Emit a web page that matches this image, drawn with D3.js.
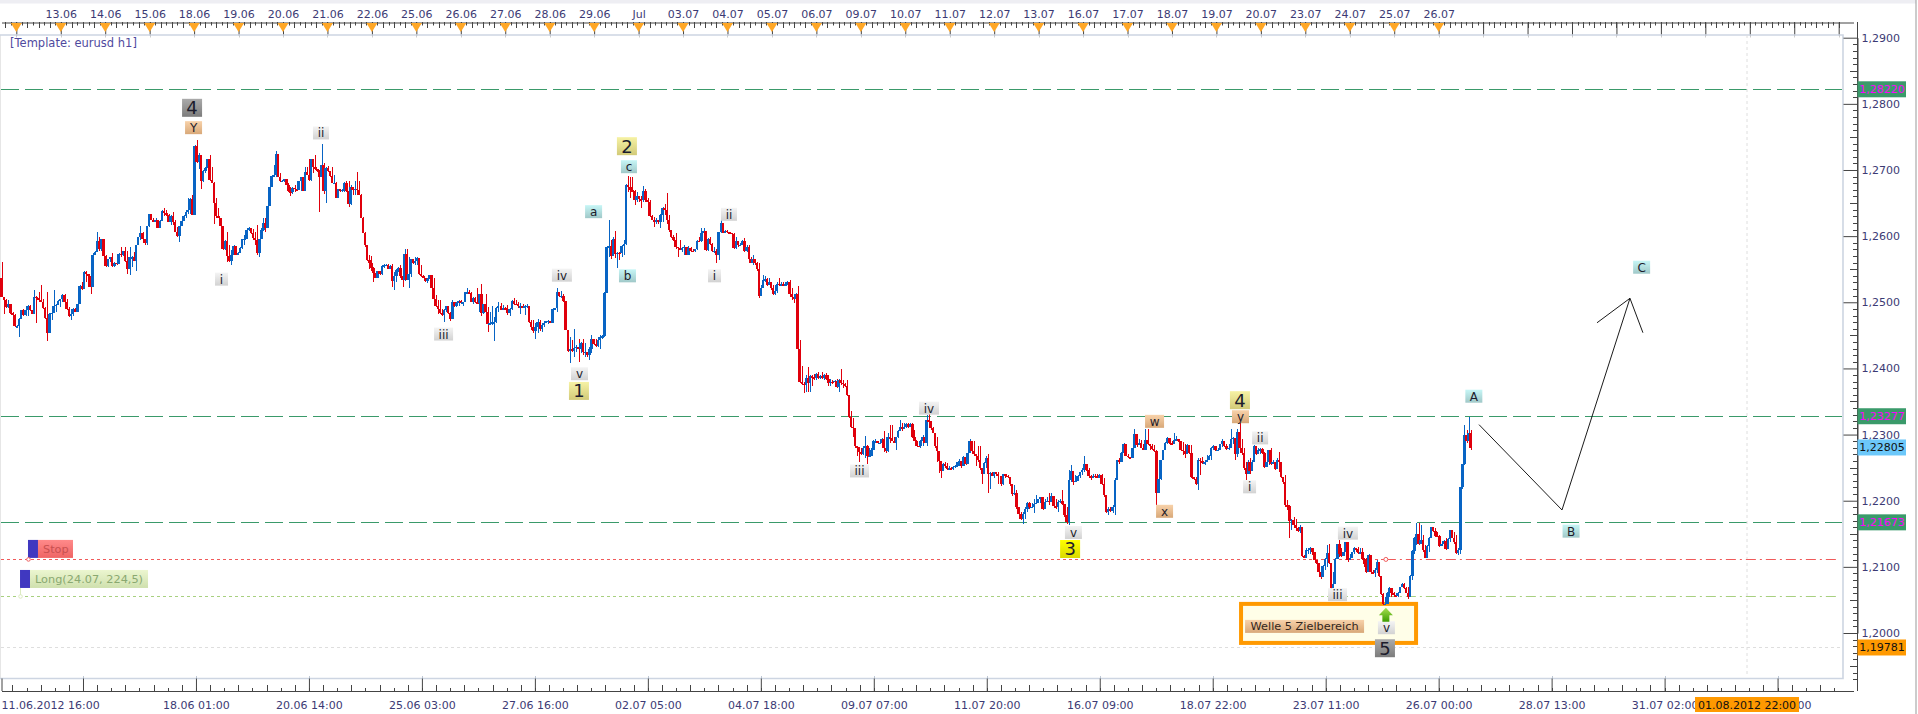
<!DOCTYPE html>
<html>
<head>
<meta charset="utf-8">
<title>eurusd h1</title>
<style>
  html, body { margin: 0; padding: 0; background: #fff; overflow: hidden; }
  text { font-family: "DejaVu Sans", sans-serif; }
</style>
<script src="https://d3js.org/d3.v7.min.js"></script>
</head>
<body>
<svg id="chart" width="1918" height="714"></svg>
<script>
// prices are stored x 10000 (12510 = 1,2510). bars, leg by leg
const highA = [12561,12508,12505,12503,12498,12486,12483,12466,12476,12489,
12490,12489,12496,12496,12489,12519,12509,12516,12526,12505,
12493,12516,12484,12485,12518,12498,12503,12505,12512,12513,
12505,12493,12490,12491,12491,12500,12526,12530,12548,12548,
12543,12556,12574,12577,12607,12598,12596,12589,12571,12566,
12569,12575,12561,12561,12574,12584,12578,12584,12578,12584,
12570,12576,12586,12599,12615,12606,12596,12616,12634,12632,
12628,12627,12625,12624,12639,12643,12639,12634,12632,12637,
12624,12614,12616,12624,12632,12640,12657,12657,12662,12738,
12745,12725,12710,12700,12705,12717,12722,12705,12682,12657,
12642,12627,12614,12594,12606,12586,12579,12586,12577,12576,
12583,12596,12601,12611,12614];
const lowA = [12508,12483,12492,12492,12483,12480,12463,12461,12447,12475,
12480,12480,12480,12487,12482,12482,12468,12503,12500,12490,
12475,12441,12454,12473,12486,12486,12497,12493,12500,12500,
12488,12478,12473,12480,12485,12485,12497,12518,12520,12530,
12523,12513,12523,12571,12576,12578,12578,12568,12554,12554,
12561,12554,12554,12557,12558,12568,12570,12561,12543,12541,
12553,12562,12548,12586,12594,12594,12586,12586,12614,12624,
12621,12621,12612,12614,12624,12631,12631,12621,12617,12617,
12606,12599,12591,12616,12624,12627,12634,12634,12632,12632,
12710,12702,12671,12682,12695,12702,12684,12680,12619,12627,
12627,12614,12579,12579,12561,12561,12556,12571,12571,12572,
12574,12581,12586,12598,12608];
const closeA = [12508,12503,12493,12497,12484,12481,12464,12464,12475,12488,
12481,12488,12495,12488,12483,12508,12507,12504,12501,12491,
12476,12454,12483,12484,12495,12496,12502,12505,12511,12501,
12490,12480,12482,12490,12486,12497,12524,12520,12546,12543,
12540,12523,12572,12576,12592,12580,12595,12570,12555,12565,
12568,12555,12560,12558,12573,12572,12577,12562,12550,12568,
12568,12563,12586,12598,12605,12595,12590,12615,12633,12625,
12622,12625,12613,12623,12638,12635,12632,12622,12630,12622,
12607,12600,12615,12623,12631,12636,12640,12656,12632,12737,
12712,12722,12683,12698,12703,12717,12685,12681,12650,12630,
12628,12615,12580,12593,12570,12562,12572,12585,12572,12575,
12582,12595,12596,12610,12612];

const highB = [12611,12611,12606,12617,12596,12612,12627,12627,12647,12676,
12692,12707,12728,12722,12695,12685,12687,12687,12680,12674,
12674,12677,12675,12684,12690,12690,12705,12705,12717,12717,
12707,12722,12702,12700,12740,12710,12705,12706,12697,12705,
12692,12682,12672,12671,12672,12682,12684,12684,12677,12675,
12684,12697,12684,12664,12629,12606,12586,12571,12570,12553,
12548,12548,12548,12556,12558,12558,12558,12556,12558,12546,
12551,12553,12556,12551,12580,12580,12568,12566,12562,12568,
12569,12566,12556,12541,12536,12536,12541,12541,12536,12511,
12503,12503,12490,12490,12495,12493,12485,12503,12500,12500,
12503,12503,12501,12516,12521,12518,12516,12508,12508,12521,
12513,12527,12498,12513,12493,12485,12494,12478,12493,12500];
const lowB = [12603,12594,12586,12572,12569,12608,12608,12606,12612,12646,
12675,12689,12689,12689,12682,12682,12682,12677,12667,12661,
12664,12667,12669,12669,12668,12668,12668,12692,12684,12684,
12695,12700,12697,12637,12697,12664,12650,12697,12690,12680,
12680,12657,12657,12667,12667,12667,12667,12644,12647,12662,
12662,12662,12662,12627,12604,12584,12563,12551,12548,12531,
12536,12536,12541,12541,12552,12555,12550,12551,12523,12518,
12531,12546,12536,12523,12532,12533,12521,12538,12558,12556,
12556,12541,12538,12536,12531,12529,12533,12521,12503,12493,
12483,12483,12480,12470,12485,12483,12472,12475,12493,12493,
12495,12498,12495,12500,12513,12513,12500,12498,12499,12498,
12485,12480,12483,12485,12455,12467,12465,12441,12469,12485];
const closeB = [12604,12597,12594,12574,12595,12610,12620,12612,12646,12675,
12691,12692,12724,12690,12683,12684,12686,12678,12668,12666,
12673,12671,12670,12683,12689,12668,12697,12693,12685,12716,
12705,12701,12698,12690,12708,12668,12703,12699,12691,12681,
12681,12658,12671,12669,12670,12681,12668,12648,12675,12670,
12672,12670,12662,12627,12605,12586,12564,12560,12552,12545,
12537,12547,12542,12555,12556,12557,12551,12555,12532,12540,
12549,12552,12540,12533,12573,12534,12543,12565,12559,12562,
12567,12542,12540,12537,12532,12535,12541,12522,12505,12494,
12490,12484,12481,12488,12494,12484,12475,12500,12495,12499,
12502,12499,12500,12515,12515,12514,12501,12507,12500,12499,
12512,12484,12497,12486,12467,12468,12470,12470,12492,12495];

const highC = [12499,12496,12493,12496,12491,12503,12506,12503,12501,12499,
12498,12496,12498,12493,12473,12473,12468,12474,12473,12469,
12471,12472,12473,12473,12491,12492,12521,12516,12517,12513,
12502,12458,12448,12443,12460,12435,12445,12440,12445,12438,
12425,12433,12450,12445,12445,12448,12450,12450,12515,12585,
12625,12594,12599,12608,12576,12576,12586,12594,12679,12691,
12690,12690,12670,12667,12660,12660,12676,12672,12657,12655,
12632,12629,12627,12625,12634,12644,12649,12665,12632,12609,
12602,12604,12584,12594,12584,12586,12584,12585,12584,12581,
12581,12594,12598,12612,12612,12605,12597,12599,12589,12584,
12581,12607,12624,12619,12609,12609,12607,12605,12604,12598,
12591,12590,12594,12597,12586,12586];
const lowC = [12488,12488,12488,12481,12479,12488,12496,12496,12491,12482,
12491,12481,12491,12468,12458,12453,12444,12454,12457,12455,
12463,12468,12467,12468,12468,12488,12486,12508,12507,12501,
12458,12425,12408,12425,12418,12425,12410,12423,12420,12418,
12418,12413,12423,12435,12433,12433,12430,12445,12448,12514,
12569,12566,12574,12567,12552,12564,12569,12571,12586,12667,
12657,12667,12647,12652,12652,12642,12652,12652,12647,12629,
12624,12614,12619,12619,12612,12622,12632,12619,12607,12597,
12592,12581,12569,12579,12576,12571,12571,12574,12576,12576,
12576,12579,12591,12591,12597,12578,12578,12586,12576,12574,
12559,12564,12604,12604,12604,12605,12604,12602,12581,12581,
12584,12585,12588,12576,12576,12559];
const closeC = [12489,12491,12490,12484,12490,12502,12498,12497,12494,12494,
12493,12494,12495,12470,12462,12456,12463,12470,12460,12466,
12468,12471,12472,12469,12490,12491,12515,12509,12510,12502,
12458,12427,12430,12427,12431,12433,12430,12438,12425,12425,
12420,12430,12444,12437,12434,12443,12448,12449,12514,12584,
12585,12570,12595,12573,12575,12574,12585,12588,12678,12675,
12669,12668,12654,12660,12656,12654,12668,12655,12651,12631,
12625,12622,12625,12621,12632,12643,12640,12625,12610,12598,
12594,12584,12582,12580,12582,12584,12572,12582,12578,12577,
12580,12593,12592,12605,12608,12579,12596,12588,12577,12578,
12572,12606,12620,12605,12608,12606,12605,12603,12582,12592,
12586,12587,12593,12578,12584,12565];

const highD = [12569,12572,12564,12561,12559,12526,12541,12539,12536,12536,
12531,12526,12526,12531,12536,12531,12531,12531,12532,12534,
12521,12511,12514,12525,12443,12403,12380,12390,12402,12390,
12390,12392,12393,12394,12390,12394,12392,12393,12390,12384,
12383,12383,12384,12384,12399,12383,12378,12383,12360,12335,
12325,12310,12282,12279,12279,12282,12298,12284,12279,12279,
12292,12293,12290,12292,12295,12305,12287,12302,12315,12315,
12297,12297,12307,12322,12317,12318,12317,12318,12317,12317,
12307,12292,12283,12292,12300,12301,12330,12332,12321,12312,
12302,12297,12274,12259,12257,12258,12257,12253,12251,12253,
12254,12259,12263,12259,12267,12267,12274,12293,12290,12290,
12269,12282,12282,12249,12259,12267,12271,12243,12243,12244,
12244,12244];
const lowD = [12559,12556,12556,12548,12506,12509,12531,12531,12524,12526,
12519,12511,12511,12514,12524,12524,12524,12524,12526,12509,
12504,12499,12501,12430,12378,12375,12363,12364,12364,12364,
12373,12383,12383,12384,12384,12384,12382,12382,12374,12374,
12377,12379,12371,12365,12375,12370,12372,12358,12325,12310,
12297,12280,12267,12259,12269,12269,12264,12256,12267,12267,
12277,12288,12285,12287,12285,12274,12272,12274,12287,12290,
12287,12277,12295,12307,12305,12310,12310,12310,12312,12295,
12290,12282,12282,12279,12282,12287,12282,12312,12307,12302,
12280,12259,12242,12234,12247,12249,12247,12247,12247,12247,
12249,12251,12252,12249,12254,12254,12257,12272,12273,12267,
12252,12259,12247,12226,12242,12249,12212,12218,12237,12234,
12237,12225];
const closeD = [12560,12566,12560,12550,12510,12522,12533,12535,12526,12530,
12521,12512,12517,12528,12526,12527,12525,12528,12530,12512,
12508,12505,12512,12430,12380,12377,12375,12386,12378,12388,
12387,12385,12392,12385,12388,12386,12390,12384,12378,12380,
12379,12381,12372,12382,12378,12376,12373,12360,12326,12312,
12310,12282,12281,12274,12270,12280,12282,12268,12268,12277,
12291,12291,12287,12288,12294,12280,12275,12296,12295,12291,
12288,12296,12306,12312,12308,12312,12316,12312,12316,12297,
12291,12283,12282,12290,12297,12288,12322,12320,12310,12303,
12282,12275,12260,12245,12255,12253,12248,12249,12248,12251,
12253,12258,12260,12253,12266,12256,12272,12290,12275,12270,
12268,12262,12250,12240,12257,12265,12240,12242,12238,12243,
12240,12238];

const highE = [12236,12241,12240,12239,12234,12223,12223,12216,12188,12183,
12183,12191,12198,12198,12196,12203,12208,12203,12206,12203,
12203,12206,12212,12211,12206,12203,12201,12203,12216,12191,
12191,12247,12254,12244,12239,12239,12244,12249,12267,12256,
12249,12239,12240,12241,12240,12241,12240,12234,12208,12191,
12191,12193,12234,12262,12264,12274,12287,12276,12271,12266,
12279,12309,12293,12294,12292,12286,12308,12309,12284,12286,
12284,12277,12234,12261,12277,12289,12297,12291,12291,12302,
12298,12294,12291,12289,12286,12286,12281,12284,12236,12236,
12264,12264,12266,12261,12269,12269,12281,12284,12281,12279,
12286,12294,12289,12286,12286,12309,12297,12294,12308,12317,
12294,12279,12259,12261];
const lowE = [12222,12223,12234,12234,12222,12207,12208,12188,12176,12171,
12165,12172,12183,12188,12190,12181,12196,12196,12196,12186,
12188,12198,12193,12201,12191,12188,12183,12196,12193,12176,
12165,12164,12229,12223,12229,12231,12234,12239,12244,12245,
12236,12231,12234,12235,12234,12234,12223,12206,12181,12178,
12183,12181,12178,12234,12256,12260,12269,12267,12265,12264,
12264,12279,12281,12286,12279,12276,12286,12284,12276,12276,
12274,12193,12211,12231,12261,12276,12286,12286,12284,12291,
12291,12289,12276,12269,12264,12271,12271,12234,12231,12223,
12216,12239,12256,12254,12261,12264,12261,12276,12275,12275,
12279,12281,12281,12276,12276,12284,12286,12261,12266,12276,
12269,12246,12231,12244];
const closeE = [12226,12240,12238,12236,12225,12210,12212,12190,12180,12172,
12180,12188,12196,12190,12191,12195,12197,12202,12205,12188,
12198,12200,12198,12207,12192,12190,12198,12200,12195,12178,
12168,12232,12245,12228,12230,12237,12243,12246,12255,12247,
12238,12234,12238,12237,12235,12239,12225,12208,12183,12188,
12185,12190,12232,12261,12258,12272,12286,12268,12266,12265,
12279,12301,12284,12288,12280,12277,12292,12285,12283,12278,
12275,12211,12233,12261,12276,12288,12295,12287,12285,12292,
12293,12290,12277,12275,12270,12284,12272,12236,12233,12225,
12262,12260,12257,12258,12262,12268,12280,12282,12276,12277,
12285,12290,12283,12278,12280,12293,12295,12270,12304,12280,
12272,12250,12240,12258];

const highF = [12264,12261,12284,12279,12279,12279,12279,12274,12259,12277,
12279,12261,12259,12264,12274,12259,12236,12239,12201,12193,
12173,12175,12173,12161,12163,12151,12118,12128,12128,12130,
12125,12113,12110,12105,12100,12103,12113,12133,12135,12095,
12092,12113,12135,12140,12128,12125,12138,12120,12120,12123,
12130,12128,12130,12128,12128,12113,12113,12120,12100,12095,
12098,12110,12100,12085,12060,12055,12062,12070,12062,12062,
12060,12062,12070,12075,12075,12070,12070,12088,12125,12145,
12166,12167,12163,12148,12133,12133,12145,12161,12161,12158,
12153,12148,12138,12140,12143,12143,12156,12146,12153,12148,
12128,12221,12256,12314,12307,12327,12307];
const lowF = [12241,12256,12259,12269,12271,12271,12271,12249,12251,12254,
12254,12256,12246,12254,12244,12234,12226,12191,12186,12143,
12156,12163,12156,12153,12151,12115,12113,12115,12120,12120,
12118,12110,12105,12090,12082,12090,12095,12100,12105,12067,
12072,12075,12113,12115,12115,12120,12120,12108,12113,12113,
12120,12123,12120,12120,12110,12100,12090,12103,12090,12090,
12085,12090,12085,12057,12042,12042,12050,12055,12055,12056,
12055,12055,12060,12070,12067,12060,12051,12057,12080,12120,
12133,12133,12135,12123,12113,12120,12123,12143,12153,12145,
12145,12130,12133,12130,12125,12135,12138,12143,12135,12120,
12118,12120,12218,12254,12287,12292,12277];
const closeF = [12245,12258,12283,12270,12277,12278,12272,12251,12258,12276,
12256,12258,12248,12262,12258,12236,12228,12193,12192,12170,
12171,12164,12158,12154,12161,12116,12114,12126,12126,12128,
12122,12111,12106,12092,12084,12101,12112,12121,12106,12068,
12074,12112,12134,12120,12116,12122,12137,12110,12114,12122,
12128,12127,12121,12122,12112,12104,12092,12118,12092,12091,
12096,12108,12086,12059,12044,12044,12061,12068,12060,12057,
12056,12061,12069,12074,12068,12061,12055,12086,12124,12144,
12150,12135,12140,12125,12114,12132,12144,12160,12154,12147,
12146,12132,12134,12139,12127,12142,12155,12144,12137,12121,
12126,12220,12255,12300,12290,12303,12280];

// hour range each leg covers, counted in trading hours from the left edge
const legStartHour = [0.1, 134.7, 269.7, 404.5, 539.7, 674];
const legEndHour = [133.5, 268.1, 403.5, 538.2, 673.2, 793.3];
const firstOpen = 12536;

// top axis, one label per day
const dayLabels = ["13.06","14.06","15.06","18.06","19.06","20.06","21.06","22.06","25.06","26.06","27.06",
  "28.06","29.06","Jul","03.07","04.07","05.07","06.07","09.07","10.07","11.07","12.07","13.07","16.07",
  "17.07","18.07","19.07","20.07","23.07","24.07","25.07","26.07"];
// bottom axis
const timeHours = [105,166,227,288,349,410,471,532,593,654,715,776,837,898,959];
const timeLabels = ["18.06 01:00","20.06 14:00","25.06 03:00","27.06 16:00","02.07 05:00","04.07 18:00",
  "09.07 07:00","11.07 20:00","16.07 09:00","18.07 22:00","23.07 11:00","26.07 00:00","28.07 13:00",
  "31.07 02:00","02.08 15:00"];
const priceTicks = [12000,12100,12200,12300,12400,12500,12600,12700,12800,12900];

// horizontal levels and their tags on the price axis
const greenLevels = [12822, 12327.7, 12167.3];
const currentPrice = 12280.5;
const lowLevel = 11978.1;
const stopLevel = 12112;
const longLevel = 12056;
const cursorHour = 942.5;
const cursorLabel = "01.08.2012 22:00";

// wave count labels
const waveText = ["4","Y","ii","i","iii","iv","v","1","2","c","a","b","ii","i","iii","iv","v","3","w","4","y","ii","i","x","iv","iii","A","B","C","v","5"];
const waveHour = [102.9,103.7,172.5,118.8,238.7,302.6,312.1,311.8,337.7,338.8,319.7,338,392.8,385,463.3,500.8,578.8,577,622.6,668.7,669,679.6,673.9,628,727,721.4,795,847.5,885.6,747.8,747];
const wavePrice = [12794,12764,12756,12535,12452,12541,12392,12366,12736,12705,12637,12540,12633,12540,12245,12340,12152,12127,12320,12352,12327,12295,12221,12184,12151,12058,12358,12154,12553,12008,11977];
const waveKind = ["dark","orange","gray","gray","gray","gray","gray","sand","sand","teal","teal","teal","gray","gray","gray","gray","gray","yellow","orange","sand","orange","gray","gray","orange","gray","gray","teal","teal","teal","gray","dark"];

// forecast drawn by hand on the chart
const forecastHour = [797.8, 842.6, 879.3];
const forecastPrice = [12315, 12186, 12506];
const headHour = [861.5, 879.3, 886.3];
const headPrice = [12469, 12506, 12454];

const zoneHour = [669.3, 763.8];
const zonePrice = [12044, 11985];
const zoneText = "Welle 5 Zielbereich";
const zoneTextHour = 703.6;
const zoneTextPrice = 12010;
const arrowHour = 747.5;
const arrowPrice = 12038;

const svg = d3.select("#chart");
const x = d3.scaleLinear().domain([0, 1000]).range([1.5, 1853.5]);
const y = d3.scaleLinear().domain([12000, 12900]).range([633, 37.7]);

const plotRight = 1843, axisRight = 1857, topLine = 22, plotTop = 35, plotBottom = 678.5, bottomLine = 691;
const inkColor = "#444", textColor = "#3c3a74", frameColor = "#cdd5e2";

// gradients for the label boxes
const fills = {
  gray: ["#f4f4f4", "#d2d2d2"], dark: ["#aaaaaa", "#7c7c7c"], orange: ["#f8d2aa", "#d8a878"],
  teal: ["#c6f6f6", "#a0c8c8"], sand: ["#f6f2a4", "#d2ca78"], yellow: ["#ffff00", "#dada00"],
  red: ["#ff8a8a", "#ee6464"], green: ["#ecf6d0", "#cfe0ae"], arrow: ["#a8e050", "#3c9c00"]
};
const defs = svg.append("defs");
Object.keys(fills).forEach(function (k) {
  const g = defs.append("linearGradient").attr("id", "g-" + k).attr("x1", 0).attr("y1", 0).attr("x2", 0).attr("y2", 1);
  g.append("stop").attr("offset", "0%").attr("stop-color", fills[k][0]);
  g.append("stop").attr("offset", "100%").attr("stop-color", fills[k][1]);
});

// window edges
svg.append("rect").attr("width", 1916).attr("height", 3.5).attr("fill", "#eeeef3");
svg.append("line").attr("x1", 1916).attr("x2", 1916).attr("y1", 0).attr("y2", 714).attr("stroke", "#999");
svg.append("line").attr("x1", 0.5).attr("x2", 0.5).attr("y1", plotTop).attr("y2", plotBottom).attr("stroke", "#e6e6e6");

// top axis
const dayHours = d3.range(0, 42).map(function (k) { return 8 + 24 * k; });
svg.append("g").selectAll("line").data(dayHours).enter().append("line")
  .attr("x1", function (d) { return Math.round(x(d)) + 0.5; })
  .attr("x2", function (d) { return Math.round(x(d)) + 0.5; })
  .attr("y1", plotTop).attr("y2", plotTop + 2.5).attr("stroke", "#ccc");
svg.append("g").attr("transform", "translate(0," + (topLine + 0.5) + ")")
  .call(d3.axisTop(x).tickValues(dayHours)
    .tickFormat(function (d, i) { return i >= 1 && i <= dayLabels.length ? dayLabels[i - 1] : ""; })
    .tickSizeInner(-13).tickSizeOuter(0).tickPadding(5))
  .call(styleAxis);
const topMinor = d3.range(2, 994, 3);
svg.append("g").selectAll("line").data(topMinor).enter().append("line")
  .attr("x1", function (d) { return Math.round(x(d)) + 0.5; })
  .attr("x2", function (d) { return Math.round(x(d)) + 0.5; })
  .attr("y1", topLine)
  .attr("y2", function (d, i) { return topLine + (i % 2 ? 3.5 : 6); })
  .attr("stroke", inkColor);
svg.append("g").selectAll("path").data(dayHours.slice(0, dayLabels.length + 1)).enter().append("path")
  .attr("d", function (d) { const c = x(d); return "M" + (c - 5.5) + " 23L" + (c + 5.5) + " 23L" + c + " 32Z"; })
  .attr("fill", "#ffa726");

// frame and the bottom axis
svg.append("path").attr("d", "M0 " + plotTop + "H" + plotRight + "V" + plotBottom + "H0")
  .attr("fill", "none").attr("stroke", frameColor).attr("stroke-width", 1.6);
svg.append("g").selectAll("line").data([44].concat(timeHours)).enter().append("line")
  .attr("x1", function (d) { return Math.round(x(d)) + 0.5; })
  .attr("x2", function (d) { return Math.round(x(d)) + 0.5; })
  .attr("y1", plotBottom - 2.5).attr("y2", plotBottom).attr("stroke", "#bcc6d4");
svg.append("g").attr("transform", "translate(0," + bottomLine + ")")
  .call(d3.axisBottom(x).tickValues([0, 44].concat(timeHours))
    .tickFormat(function (d, i) { return i >= 2 ? timeLabels[i - 2] : ""; })
    .tickSizeInner(-12.5).tickSizeOuter(0).tickPadding(10))
  .call(styleAxis);
svg.append("text").attr("x", 1.5).attr("y", 709).attr("font-size", 11).attr("fill", textColor).text("11.06.2012 16:00");
const bottomMinor = d3.range(44 - 5 * 61 / 8, 994, 61 / 8);
svg.append("g").selectAll("line").data(bottomMinor).enter().append("line")
  .attr("x1", function (d) { return Math.round(x(d)) + 0.5; })
  .attr("x2", function (d) { return Math.round(x(d)) + 0.5; })
  .attr("y1", bottomLine)
  .attr("y2", function (d, i) { return bottomLine - (i % 2 ? 3 : 6); })
  .attr("stroke", inkColor);

// price axis
svg.append("line").attr("x1", axisRight + 0.5).attr("x2", axisRight + 0.5).attr("y1", topLine).attr("y2", bottomLine).attr("stroke", inkColor);
svg.append("g").attr("transform", "translate(" + (axisRight + 0.5) + ",0)")
  .call(d3.axisRight(y).tickValues(priceTicks)
    .tickFormat(function (d) { return priceText(d, 4); })
    .tickSizeInner(-14).tickSizeOuter(0).tickPadding(4))
  .call(styleAxis);
const priceMinor = d3.range(11930, 12900, 10).filter(function (d) { return d % 100 !== 0; });
svg.append("g").selectAll("line").data(priceMinor).enter().append("line")
  .attr("x1", function (d) { return axisRight - (d % 50 === 0 ? 7 : 4); })
  .attr("x2", axisRight)
  .attr("y1", function (d) { return Math.round(y(d)) + 0.5; })
  .attr("y2", function (d) { return Math.round(y(d)) + 0.5; })
  .attr("stroke", inkColor);

function styleAxis(g) {
  g.selectAll(".domain").attr("stroke", inkColor);
  g.selectAll(".tick line").attr("stroke", inkColor);
  g.selectAll("text").attr("fill", textColor).attr("font-size", 11).attr("font-family", "DejaVu Sans");
}
function priceText(v, digits) {
  return (v / 10000).toFixed(digits).replace(".", ",");
}

// level lines
svg.append("g").selectAll("line").data(greenLevels).enter().append("line")
  .attr("x1", 1).attr("x2", plotRight - 1)
  .attr("y1", function (d) { return Math.round(y(d)) + 0.5; })
  .attr("y2", function (d) { return Math.round(y(d)) + 0.5; })
  .attr("stroke", "#3a9a6a").attr("stroke-dasharray", "18,6");
svg.append("line").attr("x1", 1).attr("x2", plotRight - 1).attr("y1", Math.round(y(lowLevel)) + 0.5).attr("y2", Math.round(y(lowLevel)) + 0.5)
  .attr("stroke", "#dedede").attr("stroke-dasharray", "3,3");
svg.append("line").attr("x1", x(cursorHour)).attr("x2", x(cursorHour)).attr("y1", plotTop).attr("y2", plotBottom - 2)
  .attr("stroke", "#dedede").attr("stroke-dasharray", "3,3");

function tradeLine(level, color) {
  const yy = Math.round(y(level)) + 0.5;
  svg.append("line").attr("x1", 1).attr("x2", x(arrowHour)).attr("y1", yy).attr("y2", yy)
    .attr("stroke", color).attr("stroke-dasharray", "3,3");
  svg.append("line").attr("x1", x(arrowHour)).attr("x2", plotRight - 4).attr("y1", yy).attr("y2", yy)
    .attr("stroke", color).attr("stroke-dasharray", "10,4,2,4");
}
tradeLine(stopLevel, "#f05a5a");
tradeLine(longLevel, "#a8d080");

// target zone box
svg.append("rect")
  .attr("x", x(zoneHour[0])).attr("y", y(zonePrice[0]))
  .attr("width", x(zoneHour[1]) - x(zoneHour[0])).attr("height", y(zonePrice[1]) - y(zonePrice[0]))
  .attr("fill", "#fffee8").attr("stroke", "#ff9900").attr("stroke-width", 4);

// bars: a leg's bars are spread evenly over the hours of that leg
const legs = [[highA, lowA, closeA], [highB, lowB, closeB], [highC, lowC, closeC],
  [highD, lowD, closeD], [highE, lowE, closeE], [highF, lowF, closeF]];
const bars = [];
let lastClose = firstOpen;
legs.forEach(function (leg, k) {
  const n = Math.min(leg[0].length, leg[1].length, leg[2].length);
  const hour = d3.scaleLinear().domain([0, n - 1]).range([legStartHour[k], legEndHour[k]]);
  for (let i = 0; i < n; i++) {
    bars.push({ hour: hour(i), open: lastClose, high: leg[0][i], low: leg[1][i], close: leg[2][i] });
    lastClose = leg[2][i];
  }
});
const upColor = "#0864c4", downColor = "#e0000c";
const barG = svg.append("g").attr("shape-rendering", "crispEdges");
barG.selectAll(".wick").data(bars).enter().append("rect").attr("class", "wick")
  .attr("x", function (d) { return Math.round(x(d.hour)); })
  .attr("y", function (d) { return y(Math.max(d.high, d.open, d.close)); })
  .attr("width", 1)
  .attr("height", function (d) { return y(Math.min(d.low, d.open, d.close)) - y(Math.max(d.high, d.open, d.close)); })
  .attr("fill", function (d) { return d.close >= d.open ? upColor : downColor; });
barG.selectAll(".body").data(bars).enter().append("rect").attr("class", "body")
  .attr("x", function (d) { return x(d.hour) - 1.25; })
  .attr("y", function (d) { return y(Math.max(d.open, d.close)); })
  .attr("width", 2.5)
  .attr("height", function (d) { return Math.max(1.5, Math.abs(y(d.open) - y(d.close))); })
  .attr("fill", function (d) { return d.close >= d.open ? upColor : downColor; });

// forecast lines
const forecastLine = d3.line().x(function (d) { return x(d[0]); }).y(function (d) { return y(d[1]); });
svg.append("path").attr("d", forecastLine(d3.zip(forecastHour, forecastPrice))).attr("fill", "none").attr("stroke", "#000").attr("stroke-width", 0.9);
svg.append("path").attr("d", forecastLine(d3.zip(headHour, headPrice))).attr("fill", "none").attr("stroke", "#000").attr("stroke-width", 0.9);

// wave labels
const boxWidth = { i: 13, ii: 16, iii: 19, iv: 20, w: 19, c: 16 };
const wave = svg.append("g").selectAll("g").data(waveText).enter().append("g")
  .attr("transform", function (d, i) { return "translate(" + x(waveHour[i]) + "," + y(wavePrice[i]) + ")"; });
wave.append("rect")
  .attr("x", function (d) { return -(/[0-9]/.test(d) ? 20 : boxWidth[d] || 17) / 2; })
  .attr("y", function (d) { return /[0-9]/.test(d) ? -9 : -6.5; })
  .attr("width", function (d) { return /[0-9]/.test(d) ? 20 : boxWidth[d] || 17; })
  .attr("height", function (d) { return /[0-9]/.test(d) ? 18 : 13; })
  .attr("fill", function (d, i) { return "url(#g-" + waveKind[i] + ")"; });
wave.append("text")
  .attr("text-anchor", "middle")
  .attr("y", function (d) { return /[0-9]/.test(d) ? 6.5 : 4.5; })
  .attr("font-size", function (d) { return /[0-9]/.test(d) ? 18 : 12; })
  .attr("fill", "#1c1c2c")
  .text(function (d) { return d; });

// zone text and buy arrow
const zoneG = svg.append("g").attr("transform", "translate(" + x(zoneTextHour) + "," + y(zoneTextPrice) + ")");
zoneG.append("rect").attr("x", -59.5).attr("y", -6.5).attr("width", 119).attr("height", 13).attr("fill", "url(#g-orange)");
zoneG.append("text").attr("text-anchor", "middle").attr("y", 4).attr("font-size", 11.3).attr("fill", "#33261c").text(zoneText);
svg.append("path")
  .attr("transform", "translate(" + x(arrowHour) + "," + y(arrowPrice) + ")")
  .attr("d", "M0 0L7 7.5H3.5V14H-3.5V7.5H-7Z")
  .attr("fill", "url(#g-arrow)");

// stop and long tags
function tradeTag(level, hour, gap, w, label, fill, color, dot) {
  const left = x(hour), top = y(level) - gap - 18;
  svg.append("rect").attr("x", left).attr("y", top).attr("width", 10).attr("height", 18).attr("fill", "#4038c0");
  svg.append("rect").attr("x", left + 10).attr("y", top).attr("width", w).attr("height", 18).attr("fill", "url(#g-" + fill + ")");
  svg.append("text").attr("x", left + 15).attr("y", top + 13).attr("font-size", 11.3).attr("fill", color).text(label);
  svg.append("line").attr("x1", left + 0.5).attr("x2", left + 0.5).attr("y1", top + 18).attr("y2", y(level)).attr("stroke", dot);
  svg.append("circle").attr("cx", left + 0.5).attr("cy", y(level) + 0.5).attr("r", 1.8).attr("fill", "#fff").attr("stroke", dot);
}
tradeTag(stopLevel, 14.3, 1, 35, "Stop", "red", "#c85050", "#f06060");
tradeTag(longLevel, 10, 8, 118, "Long(24.07, 224,5)", "green", "#8aa870", "#dcebc0");
svg.append("circle").attr("cx", x(arrowHour)).attr("cy", y(stopLevel) + 0.5).attr("r", 2).attr("fill", "#fff").attr("stroke", "#f05a5a");

// price tags
function priceTag(level, fill, color) {
  const yy = y(level);
  svg.append("rect").attr("x", axisRight + 0.5).attr("y", yy - 8).attr("width", 48.5).attr("height", 16).attr("fill", fill);
  svg.append("text").attr("x", axisRight + 25).attr("y", yy + 4).attr("text-anchor", "middle").attr("font-size", 11).attr("fill", color).text(priceText(level, 5));
}
greenLevels.forEach(function (v) { priceTag(v, "#3a9a6a", "#ff00ff"); });
priceTag(currentPrice, "#6cc8fa", "#111");
priceTag(lowLevel, "#ff9900", "#111");

// cursor time tag
svg.append("rect").attr("x", x(cursorHour) - 52).attr("y", 697).attr("width", 104).attr("height", 15).attr("fill", "#ff9900");
svg.append("text").attr("x", x(cursorHour)).attr("y", 708.5).attr("text-anchor", "middle").attr("font-size", 11).attr("fill", "#111").text(cursorLabel);

// template note
svg.append("text").attr("x", 10).attr("y", 47).attr("font-size", 11.5).attr("fill", "#4f4a9e").text("[Template: eurusd h1]");
</script>
</body>
</html>
